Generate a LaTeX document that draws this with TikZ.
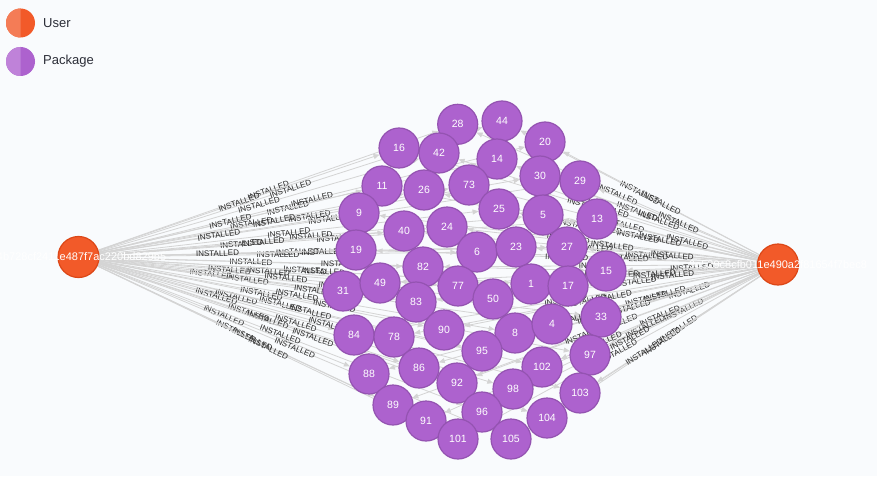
\documentclass[tikz,border=0pt]{standalone}
\usepackage{fontspec}
\setmainfont{Liberation Sans}
\usetikzlibrary{arrows.meta}
\definecolor{bgc}{HTML}{F9FBFD}
\definecolor{userfill}{HTML}{F25A29}
\definecolor{userline}{HTML}{DC4717}
\definecolor{userlight}{HTML}{F47C56}
\definecolor{pkgfill}{HTML}{AD62CE}
\definecolor{pkgline}{HTML}{9453B1}
\definecolor{pkglight}{HTML}{BF82D9}
\definecolor{edgec}{HTML}{D4D4D4}
\definecolor{lblc}{HTML}{262626}
\definecolor{legc}{HTML}{2C2E38}
\pgfdeclarelayer{bg}
\pgfdeclarelayer{edges}
\pgfsetlayers{bg,edges,main}
\begin{document}
\begin{tikzpicture}[x=1pt,y=-1pt,
  pkg/.style={circle,fill=pkgfill,draw=pkgline,line width=1.2pt,minimum size=40pt,inner sep=0pt,text=white,font=\fontsize{10.5}{12}\selectfont},
  user/.style={circle,fill=userfill,draw=userline,line width=1.2pt,minimum size=41pt,inner sep=0pt},
  usertext/.style={text=white,inner sep=0pt,font=\fontsize{11}{13}\selectfont},
  edge/.style={draw=edgec,line width=0.8pt,-{Triangle[length=6pt,width=5pt]}},
  lbl/.style={font=\fontsize{8}{9}\selectfont,text=lblc,inner sep=0pt,sloped,midway},
  legtext/.style={anchor=west,text=legc,inner sep=0pt,font=\fontsize{13}{15}\selectfont}]
\path[use as bounding box] (0,0) rectangle (877,476);
\begin{pgfonlayer}{bg}
  \fill[bgc] (0,0) rectangle (877,476);
\end{pgfonlayer}
% legend
\fill[userfill] (20.5,23) circle[radius=14.5];
\fill[userlight] (20.5,37.5) arc[start angle=90,end angle=270,radius=14.5] -- cycle;
\fill[pkgfill] (20.5,61.5) circle[radius=14.5];
\fill[pkglight] (20.5,76) arc[start angle=90,end angle=270,radius=14.5] -- cycle;
\node[legtext] (legUser) at (43,23) {User};
\node[legtext] (legPkg) at (43,61.5) {Package};
% users
\node[user] (uL) at (78.5,257) {};
\node[user] (uR) at (778,264.5) {};
% packages
\foreach \n/\x/\y in {28/457.7/124.3, 44/502/121, 16/399/148, 20/545/142, 14/497/159, 42/439/153,
  30/540/176, 29/580/181, 11/382/186, 26/424/190, 73/469/185, 25/499/209, 5/543/215, 13/597/219,
  9/359/213, 40/404/231, 24/447/227, 6/477/252, 23/516/247, 27/567/247, 19/356/250, 82/423/267,
  15/606/271, 31/343/291, 49/380/283, 77/458/286, 83/416/302, 50/493/299, 1/531/284, 17/568/286,
  33/601/317, 84/354/335, 78/394/337, 90/444/330, 8/515/333, 4/552/324, 95/482/351, 97/590/355,
  88/369/374, 86/419/368, 92/457/383, 102/542/367, 98/513/389, 103/580/393, 89/393/405, 96/482/412,
  91/426/421, 104/547/418, 101/458/439, 105/511/439}
  {\node[pkg] (p\n) at (\x,\y) {\n};}
% edges
\begin{pgfonlayer}{edges}
\foreach \n in {28,44,16,20,14,42,30,29,11,26,73,25,5,13,9,40,24,6,23,27,19,82,15,31,49,77,83,50,1,17,
  33,84,78,90,8,4,95,97,88,86,92,102,98,103,89,96,91,104,101,105}
  {\draw[edge] (uL) -- node[lbl] {INSTALLED} (p\n);
   \draw[edge] (uR) -- node[lbl] {INSTALLED} (p\n);}
\end{pgfonlayer}
% user captions
\node[usertext] (tL) at (uL) {64b728cf2411e487f7ac220bd829b5};
\node[usertext] (tR) at (uR) {9e529c8cfb011e490a2f81654f7bec8};
\end{tikzpicture}
\end{document}
